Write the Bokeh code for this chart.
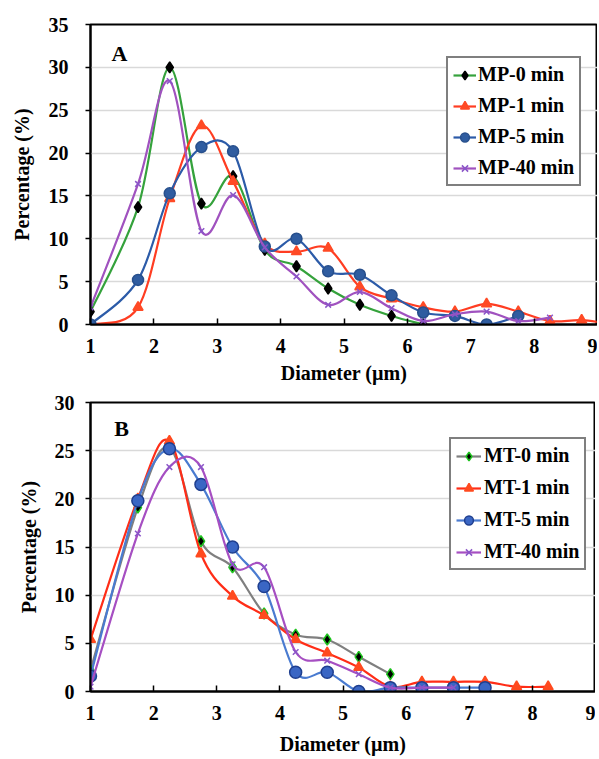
from bokeh.plotting import figure
from bokeh.layouts import column
from bokeh.models import Range1d, FixedTicker, Label, Legend, LegendItem
from bokeh.embed import file_html
from bokeh.resources import INLINE

# ---------------- data ----------------
MP_d = [1, 1.75, 2.25, 2.75, 3.25, 3.75, 4.25, 4.75, 5.25, 5.75, 6.25, 6.75, 7.25, 7.75, 8.25, 8.75, 9.25]
MP0 = [1.5, 13.7, 30.0, 14.1, 17.3, 8.7, 6.8, 4.2, 2.3, 1.0, 0.0]
MP1 = [0.0, 2.0, 14.7, 23.2, 16.7, 9.4, 8.5, 8.9, 4.4, 3.0, 2.0, 1.5, 2.4, 1.5, 0.4, 0.5, 0.0]
MP5 = [0.0, 5.2, 15.3, 20.7, 20.2, 9.1, 10.0, 6.2, 5.8, 3.4, 1.4, 1.0, 0.0, 1.0]
MP40 = [2.0, 16.4, 28.4, 10.9, 15.1, 9.0, 5.6, 2.3, 3.8, 1.9, 0.4, 1.2, 1.5, 0.4, 0.8]

MT_d = [1, 1.75, 2.25, 2.75, 3.25, 3.75, 4.25, 4.75, 5.25, 5.75, 6.25, 6.75, 7.25, 7.75, 8.25]
MT0 = [2.2, 19.1, 25.3, 15.6, 12.9, 8.1, 5.9, 5.4, 3.6, 1.8]
MT1 = [5.4, 20.0, 26.0, 14.3, 9.9, 7.9, 5.4, 4.0, 2.5, 0.5, 1.0, 1.0, 1.0, 0.5, 0.5]
MT5 = [1.6, 19.8, 25.2, 21.5, 15.0, 10.9, 2.0, 2.0, 0.0, 0.4, 0.4, 0.4, 0.4]
MT40 = [0.5, 16.4, 23.3, 23.3, 13.2, 12.9, 4.1, 3.2, 1.8, 0.4, 0.4, 0.4]

x_ticks = [1, 2, 3, 4, 5, 6, 7, 8, 9]
yA_ticks = [0, 5, 10, 15, 20, 25, 30, 35]
yB_ticks = [0, 5, 10, 15, 20, 25, 30]

FONT = "Liberation Serif"


def bezier_segments(xs, ys):
    n = len(xs)
    out = dict(x0=[], y0=[], x1=[], y1=[], cx0=[], cy0=[], cx1=[], cy1=[])
    for i in range(n - 1):
        xm, ym = (xs[i - 1], ys[i - 1]) if i > 0 else (xs[i], ys[i])
        xp, yp = (xs[i + 2], ys[i + 2]) if i + 2 < n else (xs[i + 1], ys[i + 1])
        out["x0"].append(xs[i]); out["y0"].append(ys[i])
        out["x1"].append(xs[i + 1]); out["y1"].append(ys[i + 1])
        out["cx0"].append(xs[i] + (xs[i + 1] - xm) / 6.0)
        out["cy0"].append(ys[i] + (ys[i + 1] - ym) / 6.0)
        out["cx1"].append(xs[i + 1] - (xp - xs[i]) / 6.0)
        out["cy1"].append(ys[i + 1] - (yp - ys[i]) / 6.0)
    return out


def make_fig(width, height, ymax, yticks, top, bottom, left, right,
             xstand, xlab_standoff, ystand, ylab_standoff):
    p = figure(width=width, height=height, x_range=Range1d(1, 9), y_range=Range1d(0, ymax),
               output_backend="svg", toolbar_location=None,
               min_border_top=top, min_border_bottom=bottom,
               min_border_left=left, min_border_right=right)
    p.xgrid.visible = False
    p.ygrid.grid_line_color = "#d9d9d9"
    p.ygrid.grid_line_width = 1.3
    p.outline_line_color = "black"
    p.outline_line_width = 2
    p.outline_line_alpha = 1
    p.xaxis.ticker = FixedTicker(ticks=x_ticks)
    p.yaxis.ticker = FixedTicker(ticks=yticks)
    for ax in (p.xaxis[0], p.yaxis[0]):
        ax.axis_line_color = "black"
        ax.axis_line_width = 2
        ax.major_tick_line_color = "black"
        ax.major_tick_line_width = 1.5
        ax.minor_tick_line_color = None
        ax.major_label_text_font = FONT
        ax.major_label_text_font_style = "bold"
        ax.major_label_text_font_size = "20px"
        ax.major_label_text_color = "black"
        ax.axis_label_text_font = FONT
        ax.axis_label_text_font_style = "bold"
        ax.axis_label_text_font_size = "20px"
        ax.axis_label_text_color = "black"
    p.xaxis.major_tick_in = 6
    p.xaxis.major_tick_out = 0
    p.yaxis.major_tick_in = 0
    p.yaxis.major_tick_out = 5
    p.xaxis.major_label_standoff = xstand
    p.yaxis.major_label_standoff = ystand
    p.xaxis.axis_label = "Diameter (\u00b5m)"
    p.yaxis.axis_label = "Percentage (%)"
    p.xaxis.axis_label_standoff = xlab_standoff
    p.yaxis.axis_label_standoff = ylab_standoff
    return p


def add_series(p, xs, ys, line_color, marker, size, fill, edge, lw=2.2):
    src = bezier_segments(xs, ys)
    b = p.bezier(x0="x0", y0="y0", x1="x1", y1="y1", cx0="cx0", cy0="cy0", cx1="cx1", cy1="cy1",
                 source=src, line_color=line_color, line_width=lw)
    s = p.scatter(xs, ys, marker=marker, size=size, fill_color=fill, line_color=edge, line_width=1.5)
    return [b, s]


# ---------------- panel A ----------------
pA = make_fig(597, 386, 35, yA_ticks, 24, 62, 90, 0, 14, 6, 17, 13)
rA = [
    ("MP-0 min", add_series(pA, MP_d[:len(MP0)], MP0, "#35a23c", "diamond", 11, "black", "black")),
    ("MP-1 min", add_series(pA, MP_d[:len(MP1)], MP1, "#ff3d22", "triangle", 10, "#ff4a25", "#ff4a25")),
    ("MP-5 min", add_series(pA, MP_d[:len(MP5)], MP5, "#2c5ba8", "circle", 11, "#2f5ca0", "#274f8c")),
    ("MP-40 min", add_series(pA, MP_d[:len(MP40)], MP40, "#a052bf", "x", 8, "#8a55c8", "#8a55c8")),
]
legA = Legend(items=[LegendItem(label=l, renderers=r) for l, r in rA], location=(356, 138))
legA.glyph_width = 23
legA.label_standoff = 2
legA.spacing = 8
pA.add_layout(Label(x=1.33, y=31.6, text="A", text_font=FONT, text_font_style="bold",
                    text_font_size="22px", text_baseline="middle", text_color="black"))

# ---------------- panel B ----------------
pB = make_fig(595, 371, 30, yB_ticks, 16, 66, 88, 0, 14, 10, 11, 12)
rB = [
    ("MT-0 min", add_series(pB, MT_d[:len(MT0)], MT0, "#7f7f7f", "diamond", 11, "black", "#1ec41e")),
    ("MT-1 min", add_series(pB, MT_d[:len(MT1)], MT1, "#ff2d17", "triangle", 10, "#ff4a1f", "#ff4a1f")),
    ("MT-5 min", add_series(pB, MT_d[:len(MT5)], MT5, "#4a7bd0", "circle", 12, "#3a66c4", "#1f3f8f")),
    ("MT-40 min", add_series(pB, MT_d[:len(MT40)], MT40, "#a64fc2", "x", 8, "#8a55c8", "#8a55c8")),
]
legB = Legend(items=[LegendItem(label=l, renderers=r) for l, r in rB], location=(359, 121))
legB.glyph_width = 25
legB.label_standoff = 3
legB.spacing = 9
pB.add_layout(Label(x=1.375, y=27.25, text="B", text_font=FONT, text_font_style="bold",
                    text_font_size="22px", text_baseline="middle", text_color="black"))

for leg, p in ((legA, pA), (legB, pB)):
    leg.label_text_font = FONT
    leg.label_text_font_style = "bold"
    leg.label_text_font_size = "20px"
    leg.label_text_color = "black"
    leg.border_line_color = "black"
    leg.border_line_width = 2
    leg.background_fill_color = "white"
    leg.background_fill_alpha = 1
    leg.glyph_height = 22
    leg.label_height = 22
    leg.padding = 5
    leg.margin = 0
    p.add_layout(leg)

layout = column(pA, pB, spacing=0)
open("out.html", "w").write(file_html(layout, INLINE))
